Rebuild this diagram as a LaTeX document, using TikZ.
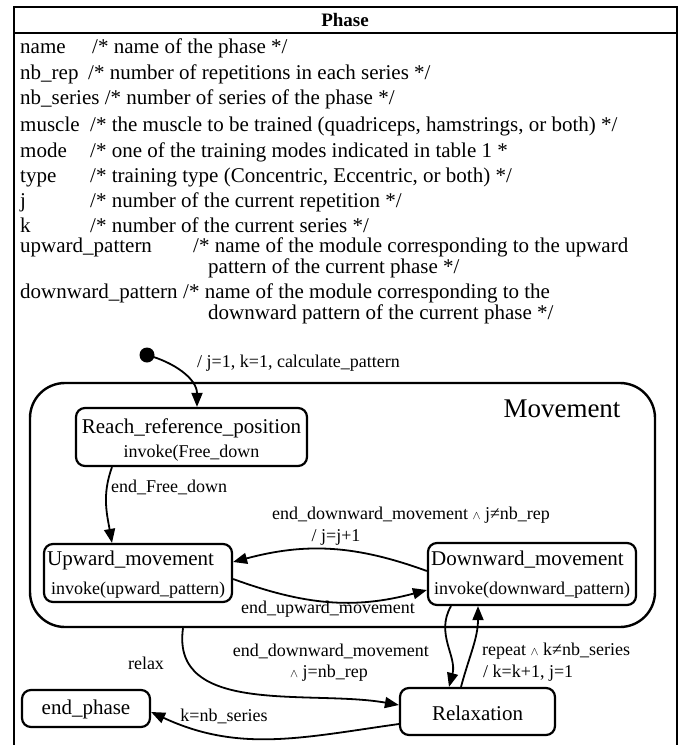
\documentclass[tikz,border=0pt]{standalone}
\usepackage{fontspec}
\setmainfont{Liberation Serif}
\usetikzlibrary{arrows.meta,calc}
\begin{document}
\begin{tikzpicture}[x=1pt,y=-1pt,
  frame/.style={line width=2.4pt},
  statebox/.style={draw,line width=2.2pt,rounded corners=9pt,inner sep=0pt},
  attr/.style={anchor=base west,inner sep=0pt,font=\fontsize{21}{23}\selectfont},
  sname/.style={inner sep=0pt,font=\fontsize{21}{23}\selectfont},
  sact/.style={inner sep=0pt,font=\fontsize{18}{20}\selectfont},
  lbl/.style={inner sep=0pt,font=\fontsize{18}{20}\selectfont},
  trans/.style={line width=1.8pt,-{Triangle[length=14pt,width=11pt]}}]
\useasboundingbox (0,0) rectangle (690,745);
% class frame
\draw[frame] (14,760) -- (14,7) -- (677,7) -- (677,760);
\draw[frame] (14,33) -- (677,33);
\node[font=\fontsize{19}{21}\selectfont\bfseries,inner sep=0pt] (title) at (345,20) {Phase};
% attributes
\node[attr] (a1) at (20,53) {name};
\node[attr] (c1) at (92,53) {/* name of the phase */};
\node[attr] (a2) at (20,79) {nb\_rep};
\node[attr] (c2) at (88,79) {/* number of repetitions in each series */};
\node[attr] (a3) at (20,104) {nb\_series /* number of series of the phase */};
\node[attr] (a4) at (20,131) {muscle};
\node[attr] (c4) at (90,131) {/* the muscle to be trained (quadriceps, hamstrings, or both) */};
\node[attr] (a5) at (20,157) {mode};
\node[attr] (c5) at (90,157) {/* one of the training modes indicated in table 1 *};
\node[attr] (a6) at (20,182) {type};
\node[attr] (c6) at (90,182) {/* training type (Concentric, Eccentric, or both) */};
\node[attr] (a7) at (20,207) {j};
\node[attr] (c7) at (90,207) {/* number of the current repetition */};
\node[attr] (a8) at (20,232) {k};
\node[attr] (c8) at (90,232) {/* number of the current series */};
\node[attr] (a9) at (20,252) {upward\_pattern};
\node[attr] (c9) at (193,252) {/* name of the module corresponding to the upward};
\node[attr] (c9b) at (208,273) {pattern of the current phase */};
\node[attr] (a10) at (20,298) {downward\_pattern};
\node[attr] (c10) at (183,298) {/* name of the module corresponding to the};
\node[attr] (c10b) at (208,319) {downward pattern of the current phase */};
% composite state
\node[draw,line width=2.4pt,rounded corners=35pt,minimum width=625pt,minimum height=244pt] (mov) at (342.5,505) {};
\node[font=\fontsize{27}{29}\selectfont,inner sep=0pt] (movname) at (562,409) {Movement};
% initial pseudostate
\fill (147,355) circle (7.5pt) coordinate (init);
\node[lbl,anchor=west] (initlbl) at (197,363) {/ j=1, k=1, calculate\_pattern};
% states
\node[statebox,minimum width=231pt,minimum height=58pt] (reach) at (191.5,437) {};
\node[sname] (reachname) at (191.5,428) {Reach\_reference\_position};
\node[sact] (reachact) at (191.5,453) {invoke(Free\_down};
\node[statebox,minimum width=188pt,minimum height=58pt] (up) at (138,573) {};
\node[sname,anchor=west] (upname) at (47,560) {Upward\_movement};
\node[sact,anchor=west] (upact) at (51,590) {invoke(upward\_pattern)};
\node[statebox,minimum width=208pt,minimum height=62pt] (down) at (532,574) {};
\node[sname,anchor=west] (downname) at (431,560) {Downward\_movement};
\node[sact,anchor=west] (downact) at (434,590) {invoke(downward\_pattern)};
\node[statebox,minimum width=155pt,minimum height=47pt] (relax) at (477.5,711.5) {};
\node[sname] (relaxname) at (477.5,713) {Relaxation};
\node[statebox,minimum width=128pt,minimum height=37pt] (endp) at (86,708.5) {};
\node[sname] (endpname) at (86,709) {end\_phase};
% transitions
\draw[trans] (init) to[out=-15,in=90] (reach.north -| 197,0);
\draw[trans] (reach.south -| 112,0) to[out=250,in=100] (up.north -| 112,0);
\node[lbl,anchor=west] (l1) at (111,487) {end\_Free\_down};
\draw[trans] (down.west |- 0,571) to[out=160,in=15] (up.east |- 0,562);
\node[lbl] (l2) at (411,515) {end\_downward\_movement $\scriptstyle\wedge$ j≠nb\_rep};
\node[lbl] (l2b) at (336,537) {/ j=j+1};
\draw[trans] (up.east |- 0,579) to[out=-20,in=195] (down.west |- 0,590);
\node[lbl] (l3) at (328,609) {end\_upward\_movement};
\draw[trans] (mov.south -| 183,0) to[out=-98,in=170] (relax.west |- 0,705);
\node[lbl] (l4) at (146,663) {relax};
\draw[trans] (down.south -| 451,0) to[out=-120,in=75] (relax.north -| 449,0);
\node[lbl,anchor=east] (l5) at (429,651) {end\_downward\_movement};
\node[lbl] (l5b) at (329,673) {$\scriptstyle\wedge$ j=nb\_rep};
\draw[trans] (relax.north -| 461,0) to[out=75,in=-90] (down.south -| 478,0);
\node[lbl,anchor=west] (l6) at (482,651) {repeat $\scriptstyle\wedge$ k≠nb\_series};
\node[lbl,anchor=west] (l6b) at (483,673) {/ k=k+1, j=1};
\draw[trans] (relax.west |- 0,724) to[out=188,in=-25] (endp.east |- 0,712);
\node[lbl] (l7) at (224,716) {k=nb\_series};
\end{tikzpicture}
\end{document}
